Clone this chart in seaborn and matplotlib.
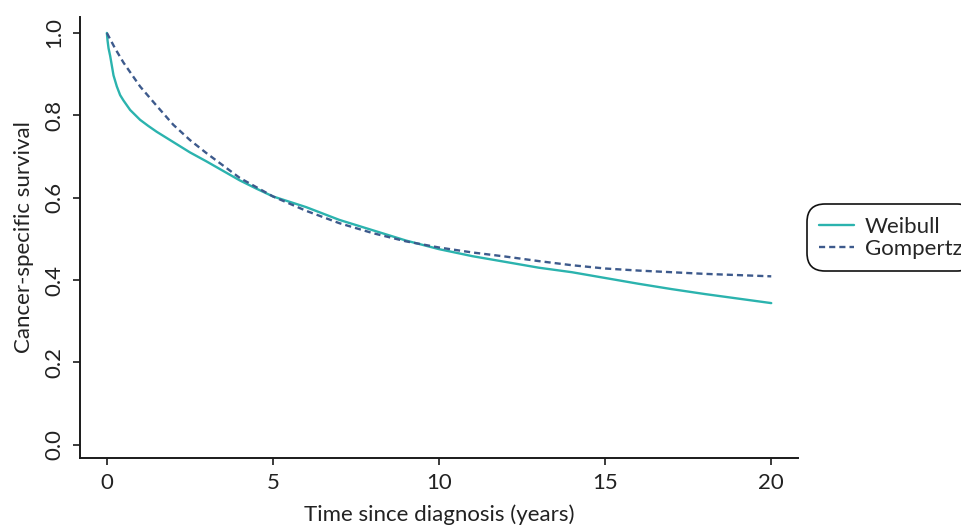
import numpy as np
import pandas as pd
import matplotlib
matplotlib.use("Agg")
import matplotlib.pyplot as plt
import seaborn as sns

# Fitted cancer-specific survival curves
weibull_t = [0, 0.02, 0.05, 0.1, 0.2, 0.3, 0.4, 0.5, 0.7, 1.0, 1.25, 1.5, 2.0, 2.5, 3.0,
             3.5, 4.0, 4.5, 5.0, 6.0, 7.0, 8.0, 9.0, 10.0, 11.0, 12.0, 13.0, 14.0, 15.0,
             16.0, 17.0, 18.0, 19.0, 20.0]
weibull_s = [1.000, 0.982, 0.963, 0.944, 0.897, 0.870, 0.849, 0.836, 0.813, 0.789, 0.774,
             0.760, 0.735, 0.710, 0.688, 0.665, 0.642, 0.622, 0.603, 0.577, 0.546, 0.521,
             0.496, 0.475, 0.458, 0.444, 0.430, 0.419, 0.405, 0.391, 0.378, 0.366, 0.355,
             0.344]

gompertz_t = [0, 0.25, 0.5, 1.0, 1.5, 2.0, 2.5, 3.0, 4.0, 5.0, 6.0, 7.0, 8.0, 9.0, 10.0,
              11.0, 12.0, 13.0, 14.0, 15.0, 16.0, 17.0, 18.0, 19.0, 20.0]
gompertz_s = [1.000, 0.962, 0.928, 0.870, 0.823, 0.777, 0.740, 0.708, 0.648, 0.603, 0.568,
              0.538, 0.514, 0.494, 0.479, 0.467, 0.457, 0.446, 0.436, 0.428, 0.423, 0.419,
              0.415, 0.412, 0.409]

x_ticks = [0, 5, 10, 15, 20]
y_ticks = [0.0, 0.2, 0.4, 0.6, 0.8, 1.0]

df = pd.concat([
    pd.DataFrame({"time": weibull_t, "survival": weibull_s, "model": "Weibull"}),
    pd.DataFrame({"time": gompertz_t, "survival": gompertz_s, "model": "Gompertz"}),
], ignore_index=True)

sns.set_style("white")
plt.rcParams["font.family"] = ["Lato", "DejaVu Sans"]

fig = plt.figure(figsize=(9.61, 5.27), dpi=100)
ax = fig.add_axes([0.0832, 0.131, 0.747, 0.837])

palette = {"Weibull": "#2bb3ae", "Gompertz": "#3d5a8c"}
sns.lineplot(data=df, x="time", y="survival", hue="model", style="model",
             palette=palette, dashes={"Weibull": "", "Gompertz": (2.6, 1.7)},
             linewidth=1.7, ax=ax, legend=True)

ax.set_xlim(-0.81, 20.8)
ax.set_ylim(-0.032, 1.039)
ax.set_xticks(x_ticks)
ax.set_xticklabels([str(v) for v in x_ticks])
ax.set_yticks(y_ticks)
ax.set_yticklabels([f"{v:.1f}" for v in y_ticks], rotation=90, va="center")

for side in ["top", "right"]:
    ax.spines[side].set_visible(False)
for side in ["left", "bottom"]:
    ax.spines[side].set_color("#1a1a1a")
    ax.spines[side].set_linewidth(1.4)

ax.tick_params(axis="both", which="major", direction="out", length=5, width=1.2,
               color="#1a1a1a", labelsize=16, labelcolor="#222222", pad=6, left=True, bottom=True)
ax.set_xlabel("Time since diagnosis (years)", fontsize=16, color="#222222", labelpad=8)
ax.set_ylabel("Cancer-specific survival", fontsize=16, color="#222222", labelpad=8)

handles, labels = ax.get_legend_handles_labels()
ax.legend(handles=handles, labels=labels, loc="center left",
          bbox_to_anchor=(0.840, 0.549), bbox_transform=fig.transFigure,
          frameon=True, fancybox=True, edgecolor="#111111", framealpha=1,
          fontsize=16, handlelength=1.55, handletextpad=0.5, borderpad=0.55,
          labelspacing=0.1, borderaxespad=0)
leg = ax.get_legend()
leg.get_frame().set_linewidth(1.2)
leg.get_frame().set_boxstyle("round,pad=0.0,rounding_size=0.8")

fig.savefig("out.png", dpi=100)
